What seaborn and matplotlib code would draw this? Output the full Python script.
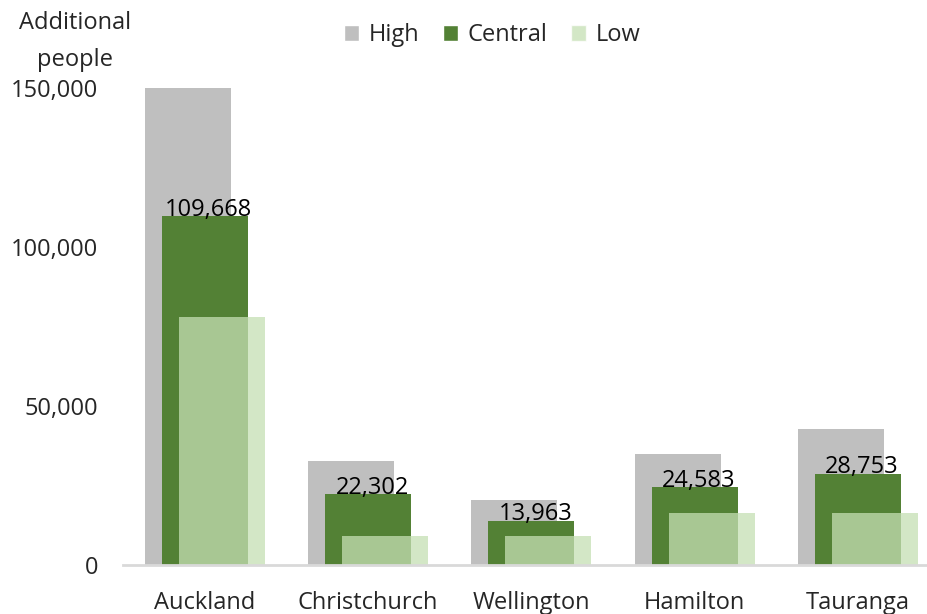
import numpy as np
import pandas as pd
import matplotlib
matplotlib.use("Agg")
import matplotlib.pyplot as plt
from matplotlib.patches import Patch
import seaborn as sns

# Projected additional people by city, under three growth scenarios
cities = ["Auckland", "Christchurch", "Wellington", "Hamilton", "Tauranga"]
high = [150000, 32700, 20400, 34900, 42800]
central = [109668, 22302, 13963, 24583, 28753]
low = [78000, 9100, 9100, 16300, 16300]

sns.set_theme(style="white")
plt.rcParams["font.family"] = ["Open Sans", "DejaVu Sans"]
FS = 17

fig = plt.figure(figsize=(9.27, 6.14), dpi=100)
ax = fig.add_axes([123 / 927, 1 - 565 / 614, (939.5 - 123) / 927, (565 - 88) / 614])

pos = np.arange(len(cities), dtype=float)
bar_w = 0.527
shift = 0.104

series = [
    ("High", high, -shift, "#BFBFBF", 1.0),
    ("Central", central, 0.0, "#538135", 1.0),
    ("Low", low, shift, "#C5E0B4", 0.75),
]
for name, vals, off, col, alpha in series:
    df = pd.DataFrame({"x": pos + off, "y": vals})
    sns.barplot(data=df, x="x", y="y", native_scale=True, width=bar_w,
                color=col, alpha=alpha, linewidth=0, saturation=1,
                ax=ax, errorbar=None)

# Value labels on the central scenario
for x, v in zip(pos, central):
    ax.annotate(f"{v:,}", (x, v), xytext=(3, 4.5), textcoords="offset points",
                ha="center", va="center", fontsize=FS, color="black", zorder=10)

ax.set_xlim(-0.5, 4.5)
ax.set_ylim(0, 150000)
ax.set_xticks(pos)
ax.set_xticklabels(cities, fontsize=FS)
ax.set_yticks([0, 50000, 100000, 150000])
ax.set_yticklabels([f"{t:,}" for t in [0, 50000, 100000, 150000]], fontsize=FS)
ax.tick_params(axis="y", length=0, pad=18)
ax.tick_params(axis="x", length=0, pad=19)
ax.set_xlabel("")
ax.set_ylabel("")
for s in ["top", "right", "left"]:
    ax.spines[s].set_visible(False)
ax.spines["bottom"].set_color("#D9D9D9")
ax.spines["bottom"].set_linewidth(2)
ax.grid(False)

fig.text(75 / 927, 1 - 11 / 614, "Additional\npeople", ha="center", va="top",
         fontsize=FS, linespacing=1.7)

handles = [Patch(facecolor=c, alpha=a, label=n) for n, _, _, c, a in series]
fig.legend(handles=handles, loc="center", bbox_to_anchor=(492 / 927, 1 - 35 / 614),
           ncol=3, frameon=False, fontsize=FS, handlelength=0.65, handleheight=0.65,
           handletextpad=0.4, columnspacing=1.0)

fig.savefig("out.png", dpi=100)
